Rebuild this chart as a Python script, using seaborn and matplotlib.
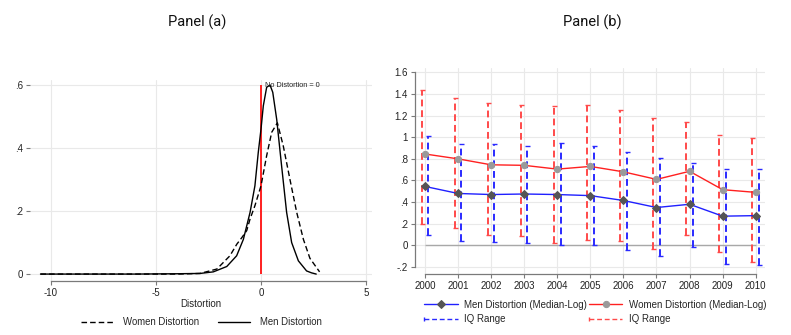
import numpy as np
import pandas as pd
import matplotlib
matplotlib.use("Agg")
import matplotlib.pyplot as plt
import seaborn as sns
from matplotlib.lines import Line2D
from matplotlib.legend_handler import HandlerBase

# ---------------- data ----------------
# Panel (a): kernel densities
men_x = [-10.5, -6.0, -4.0, -2.9, -2.27, -1.63, -1.16, -0.84, -0.52, -0.29, -0.13,
         0.0, 0.11, 0.27, 0.43, 0.56, 0.75, 0.98, 1.22, 1.46, 1.78, 2.17, 2.4, 2.63]
men_y = [0.0, 0.0, 0.001, 0.002, 0.007, 0.024, 0.058, 0.11, 0.196, 0.28, 0.386,
         0.46, 0.534, 0.593, 0.60, 0.577, 0.49, 0.344, 0.196, 0.10, 0.042, 0.01, 0.004, 0.0]
women_x = [-10.5, -6.0, -4.0, -2.9, -2.1, -1.48, -1.15, -0.92, -0.68, -0.52, -0.29,
           0.0, 0.27, 0.51, 0.78, 1.06, 1.38, 1.70, 2.02, 2.33, 2.79]
women_y = [0.0, 0.0, 0.0, 0.002, 0.016, 0.058, 0.095, 0.115, 0.138, 0.175, 0.217,
           0.28, 0.376, 0.45, 0.48, 0.407, 0.30, 0.196, 0.11, 0.05, 0.007]

# Panel (b): medians and inter-quartile ranges by year
years = [2000, 2001, 2002, 2003, 2004, 2005, 2006, 2007, 2008, 2009, 2010]
men_median = [0.545, 0.48, 0.47, 0.475, 0.47, 0.46, 0.415, 0.35, 0.38, 0.27, 0.275]
men_q1 = [0.092, 0.043, 0.034, 0.022, 0.006, 0.0, -0.04, -0.095, -0.018, -0.17, -0.185]
men_q3 = [1.012, 0.935, 0.935, 0.92, 0.945, 0.92, 0.862, 0.81, 0.766, 0.705, 0.705]
women_median = [0.845, 0.80, 0.745, 0.74, 0.705, 0.73, 0.68, 0.61, 0.685, 0.515, 0.49]
women_q1 = [0.20, 0.16, 0.098, 0.083, 0.022, 0.052, 0.043, -0.03, 0.092, -0.065, -0.155]
women_q3 = [1.437, 1.36, 1.314, 1.298, 1.29, 1.30, 1.252, 1.18, 1.14, 1.02, 0.99]

xticks_a = [-10, -5, 0, 5]
yticks_a = [0, 0.2, 0.4, 0.6]
yticklabels_a = ["0", ".2", ".4", ".6"]
yticks_b = [-0.2, 0, 0.2, 0.4, 0.6, 0.8, 1.0, 1.2, 1.4, 1.6]
yticklabels_b = ["-.2", "0", ".2", ".4", ".6", ".8", "1", "1.2", "1.4", "1.6"]

# ---------------- style ----------------
sns.set_theme(style="white")
plt.rcParams["font.family"] = ["Liberation Sans", "DejaVu Sans"]

W, H = 791, 335
fig = plt.figure(figsize=(W / 100, H / 100), dpi=100)

def ax_rect(l, r, t, b):
    return [l / W, 1 - b / H, (r - l) / W, (b - t) / H]

GRID = "#e9e9e9"
AXC = "#7a7a7a"
TICKFS = 7

# ---------------- Panel (a) ----------------
axa = fig.add_axes(ax_rect(30, 372, 80, 281))
dfa_m = pd.DataFrame({"x": men_x, "y": men_y})
dfa_w = pd.DataFrame({"x": women_x, "y": women_y})
sns.lineplot(data=dfa_w, x="x", y="y", ax=axa, color="black", lw=1.0,
             linestyle=(0, (4, 2.2)), label="Women Distortion", sort=False)
sns.lineplot(data=dfa_m, x="x", y="y", ax=axa, color="black", lw=1.0,
             label="Men Distortion", sort=False)
axa.vlines(0, 0, 0.6, color="#ff2020", lw=1.4, zorder=1)
axa.text(0.2, 0.6, "No Distortion = 0", fontsize=5.3, va="center", ha="left", color="#222")
axa.set_xlim(-11.0, 5.286)
axa.set_ylim(-0.022, 0.616)
axa.set_xticks(xticks_a)
axa.set_xticklabels([str(v) for v in xticks_a])
axa.set_yticks(yticks_a)
axa.set_yticklabels(yticklabels_a)
axa.grid(True, color=GRID, lw=0.8)
axa.set_axisbelow(True)
for s in ["top", "right", "left"]:
    axa.spines[s].set_visible(False)
axa.spines["bottom"].set_color(AXC)
axa.spines["bottom"].set_linewidth(0.9)
axa.spines["bottom"].set_bounds(-10, 5)
axa.tick_params(axis="both", which="both", length=3, width=0.8, colors=AXC,
                labelcolor="#222", labelsize=TICKFS, pad=2, bottom=True, left=True)
axa.set_xlabel("Distortion", fontsize=7.0, labelpad=1, color="#222")
axa.set_ylabel("")
ha, la = axa.get_legend_handles_labels()
axa.get_legend().remove()
fig.legend(ha, la, loc="center", bbox_to_anchor=(201.5 / W, 1 - 322 / H), ncol=2,
           frameon=False, fontsize=6.9, handlelength=3.4, handletextpad=1.0,
           columnspacing=1.9, borderpad=0, borderaxespad=0)

# ---------------- Panel (b) ----------------
axb = fig.add_axes(ax_rect(415, 765, 68, 274))
yrs = np.array(years, dtype=float)

def iq_bars(ax, xpos, med, lo, hi, color):
    med = np.array(med); lo = np.array(lo); hi = np.array(hi)
    eb = ax.errorbar(xpos, med, yerr=[med - lo, hi - med], fmt="none",
                     ecolor=color, elinewidth=1.4, capsize=1.8, capthick=1.0, zorder=2)
    eb[-1][0].set_linestyle((0, (3.5, 2.0)))
    return eb

iq_bars(axb, yrs - 0.1, women_median, women_q1, women_q3, "#ff4a4a")
iq_bars(axb, yrs + 0.1, men_median, men_q1, men_q3, "#2a2aff")
axb.hlines(0, 2000, 2010, color="#a8a8a8", lw=1.0, zorder=1)

dfb = pd.DataFrame({"year": yrs, "men": men_median, "women": women_median})
sns.lineplot(data=dfb, x="year", y="men", ax=axb, color="#2020ff", lw=1.0,
             marker="D", markersize=4.3, markerfacecolor="#555555",
             markeredgecolor="#555555", label="Men Distortion (Median-Log)", zorder=4)
sns.lineplot(data=dfb, x="year", y="women", ax=axb, color="#ff2020", lw=1.0,
             marker="o", markersize=4.5, markerfacecolor="#9a9a9a",
             markeredgecolor="#9a9a9a", label="Women Distortion (Median-Log)", zorder=4)
axb.get_legend().remove()

axb.set_xlim(1999.70, 2010.28)
axb.set_ylim(-0.2647, 1.64)
axb.set_xticks(years)
axb.set_xticklabels([str(y) for y in years])
axb.set_yticks(yticks_b)
axb.set_yticklabels(yticklabels_b)
axb.grid(True, color=GRID, lw=0.8)
axb.set_axisbelow(True)
for s in ["top", "right"]:
    axb.spines[s].set_visible(False)
for s in ["bottom", "left"]:
    axb.spines[s].set_color(AXC)
    axb.spines[s].set_linewidth(0.9)
axb.spines["bottom"].set_bounds(2000, 2010)
axb.spines["left"].set_bounds(-0.2, 1.6)
axb.tick_params(axis="both", length=3, width=0.8, colors=AXC, labelcolor="#222",
                labelsize=TICKFS, pad=2, bottom=True, left=True)
axb.set_xlabel("")
axb.set_ylabel("")

class CapHandler(HandlerBase):
    def create_artists(self, legend, orig, xdescent, ydescent, width, height, fontsize, trans):
        y = height / 2 - ydescent
        ln = Line2D([-xdescent, width - xdescent], [y, y], color=orig.get_color(),
                    lw=1.0, linestyle=(0, (3.5, 2.0)), transform=trans)
        cap = Line2D([-xdescent], [y], marker="|", markersize=3.5, color=orig.get_color(),
                     lw=0, transform=trans)
        return [ln, cap]

hb, lb = axb.get_legend_handles_labels()
men_iq = Line2D([], [], color="#2a2aff")
women_iq = Line2D([], [], color="#ff4a4a")
handles = [hb[0], men_iq, hb[1], women_iq]
labels = [lb[0], "IQ Range", lb[1], "IQ Range"]
fig.legend(handles, labels, loc="center", bbox_to_anchor=(595.5 / W, 1 - 312 / H), ncol=2,
           frameon=False, fontsize=7.0, handlelength=3.4, handletextpad=0.7,
           columnspacing=0.2, labelspacing=0.5, borderpad=0, borderaxespad=0,
           handler_map={men_iq: CapHandler(), women_iq: CapHandler()})

# ---------------- titles ----------------
fig.text(197 / W, 1 - 22 / H, "Panel (a)", ha="center", va="center",
         fontsize=10.5, family=["Roboto", "DejaVu Sans"], color="#111")
fig.text(592 / W, 1 - 22 / H, "Panel (b)", ha="center", va="center",
         fontsize=10.5, family=["Roboto", "DejaVu Sans"], color="#111")

fig.savefig("out.png", dpi=100, facecolor="white")
